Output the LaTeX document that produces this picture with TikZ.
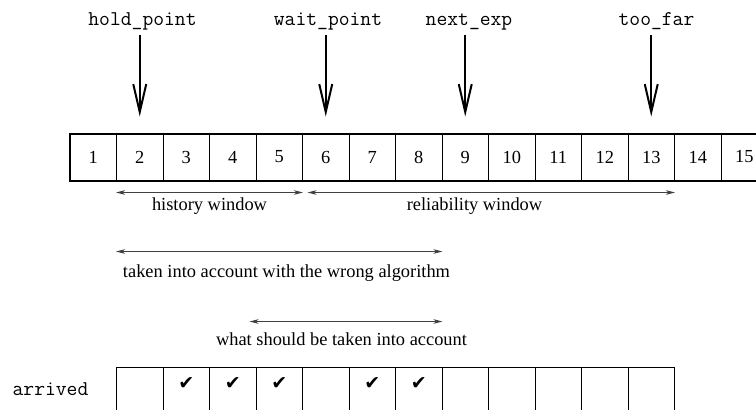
\documentclass[tikz,border=0pt]{standalone}
\usepackage{fontspec}
\setmainfont{Liberation Serif}
\newfontfamily\tickfont{DejaVu Sans}
\usepackage{tikz}
\usetikzlibrary{arrows.meta}
\colorlet{spangray}{black!75}

\begin{document}
\begin{tikzpicture}[x=1pt,y=-1pt,font=\fontsize{18.4}{22}\selectfont,
    cell/.style={draw,line width=1pt,inner sep=0pt,minimum width=46.5pt,minimum height=46pt},
    slot/.style={cell,line width=1pt},
    frame/.style={line width=2pt},
    pointer/.style={line width=2pt,-{Straight Barb[length=28pt,width=13pt]},shorten <=6pt,shorten >=17pt},
    span/.style={spangray,line width=1pt,{Stealth[length=9pt,width=4.5pt,inset=2.5pt]}-{Stealth[length=9pt,width=4.5pt,inset=2.5pt]}},
    tag/.style={font=\fontsize{21}{24}\ttfamily,inner sep=0pt,text depth=4pt},
    note/.style={inner sep=0pt},
    tick/.style={font=\fontsize{19}{22}\tickfont,inner sep=0pt}]
\useasboundingbox (0,0) rectangle (756,410);
% sequence numbers
\foreach \i in {1,...,15}
    \node[cell] (c\i) at (46.75+46.5*\i,157) {\i};
\draw[frame] (c1.north west) rectangle (c15.south east);
% pointers into the sequence
\node[tag,anchor=base] (hold) at (142.5,25) {hold\_point};
\node[tag,anchor=base] (wait) at (328,25) {wait\_point};
\node[tag,anchor=base] (next) at (469,25) {next\_exp};
\node[tag,anchor=base] (far)  at (656.5,25) {too\_far};
\draw[pointer] (hold.south -| c2) -- (c2.north);
\draw[pointer] (wait.south -| c6) -- (c6.north);
\draw[pointer] (next.south -| c9) -- (c9.north);
\draw[pointer] (far.south -| c13) -- (c13.north);
% windows
\draw[span] ([yshift=-12pt]c2.south west) -- ([yshift=-12pt]c5.south east);
\draw[span] ([xshift=5.5pt,yshift=-12pt]c6.south west) -- ([yshift=-12pt]c13.south east);
\node[note,anchor=base] (hist) at (209.5,210) {history window};
\node[note,anchor=base] (rel) at (474.5,210) {reliability window};
\draw[span] ([yshift=-71pt]c2.south west) -- ([yshift=-71pt]c8.south east);
\node[note,anchor=base] (wrong) at (286.5,277) {taken into account with the wrong algorithm};
\draw[span] ([xshift=-6pt,yshift=-141pt]c5.south west) -- ([yshift=-141pt]c8.south east);
\node[note,anchor=base] (right) at (341.5,345) {what should be taken into account};
% arrivals
\node[tag,anchor=base] (arr) at (50.5,395) {arrived};
\foreach \i in {2,...,13}
    \node[slot] (b\i) at (46.75+46.5*\i,390) {};
\foreach \i in {3,4,5,7,8}
    \node[tick] (k\i) at ([yshift=6pt]b\i) {✔};
\end{tikzpicture}
\end{document}
